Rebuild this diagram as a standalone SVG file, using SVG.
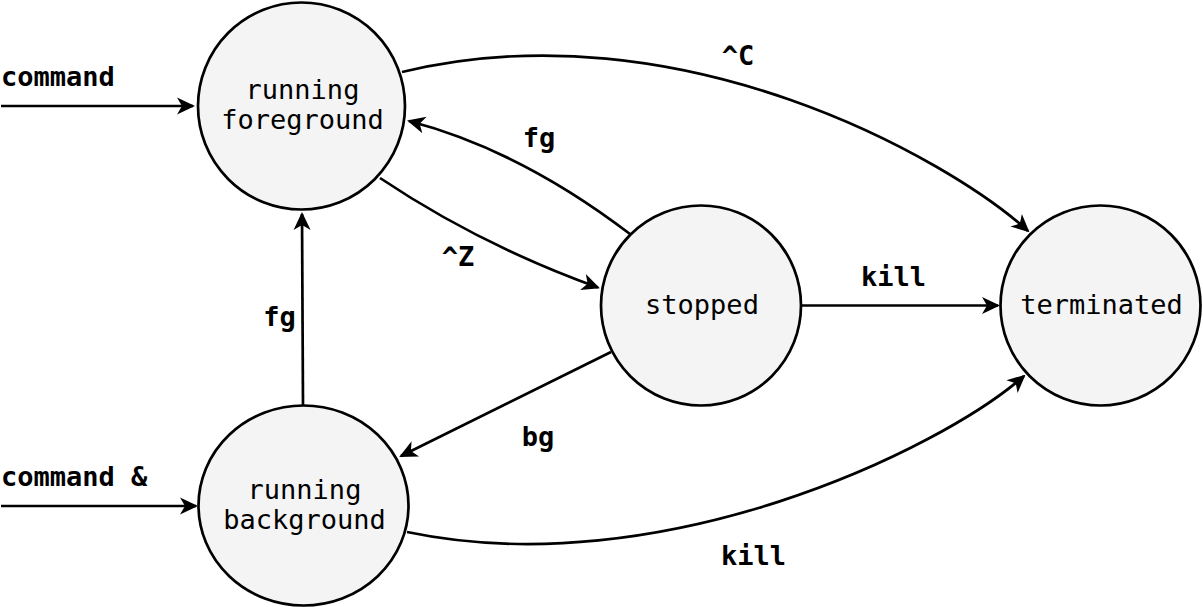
<svg xmlns="http://www.w3.org/2000/svg" width="1203" height="607" viewBox="0 0 1203 607">
<style>
.node{fill:#f4f4f4;stroke:#000;stroke-width:2.7}
.lbl{font-family:"DejaVu Sans Mono","Liberation Mono",monospace;font-size:27px;fill:#000;text-anchor:middle}
.elbl{font-family:"DejaVu Sans Mono","Liberation Mono",monospace;font-size:27px;font-weight:bold;fill:#000}
.edge{fill:none;stroke:#000;stroke-width:2.7;marker-end:url(#arr)}
</style>
<defs>
<marker id="arr" markerUnits="userSpaceOnUse" viewBox="-20 -10 24 20" refX="0" refY="0" markerWidth="24" markerHeight="20" orient="auto">
<path d="M2,0 L-16,-8.5 L-11,0 L-16,8.5 Z" fill="#000"/>
</marker>
</defs>
<rect width="1203" height="607" fill="#fff"/>
<g id="connectors">
<path class="edge" d="M1,106 L193,106"/>
<path class="edge" d="M1,506 L196,506"/>
<path class="edge" d="M402,72 C680,5 950,160 1028,231"/>
<path class="edge" d="M630,234 Q520,150 409,121"/>
<path class="edge" d="M380,178 Q480,245 598,287.5"/>
<path class="edge" d="M303,405 L302,214"/>
<path class="edge" d="M611,352 L401,456"/>
<path class="edge" d="M801,305.5 L998,305.5"/>
<path class="edge" d="M407,532 C660,585 940,450 1024,376"/>
</g>
<g id="edge-labels">
<text class="elbl" x="1" y="86">command</text>
<text class="elbl" x="1" y="486">command &amp;</text>
<text class="elbl" x="738" y="65" text-anchor="middle">^C</text>
<text class="elbl" x="539" y="147" text-anchor="middle">fg</text>
<text class="elbl" x="458" y="266" text-anchor="middle">^Z</text>
<text class="elbl" x="279.5" y="326" text-anchor="middle">fg</text>
<text class="elbl" x="538" y="446" text-anchor="middle">bg</text>
<text class="elbl" x="893.5" y="286" text-anchor="middle">kill</text>
<text class="elbl" x="753.5" y="565" text-anchor="middle">kill</text>
</g>
<g id="running-foreground">
<circle class="node" cx="301.5" cy="106" r="103.5"/>
<text class="lbl" x="302.5" y="99">running</text>
<text class="lbl" x="302.5" y="129">foreground</text>
</g>
<g id="running-background">
<ellipse class="node" cx="303.5" cy="505.5" rx="105" ry="100"/>
<text class="lbl" x="304.5" y="499">running</text>
<text class="lbl" x="304.5" y="529">background</text>
</g>
<g id="stopped">
<circle class="node" cx="701" cy="305.5" r="100"/>
<text class="lbl" x="702" y="314">stopped</text>
</g>
<g id="terminated">
<circle class="node" cx="1100.5" cy="305.5" r="100"/>
<text class="lbl" x="1101.5" y="314">terminated</text>
</g>
</svg>
